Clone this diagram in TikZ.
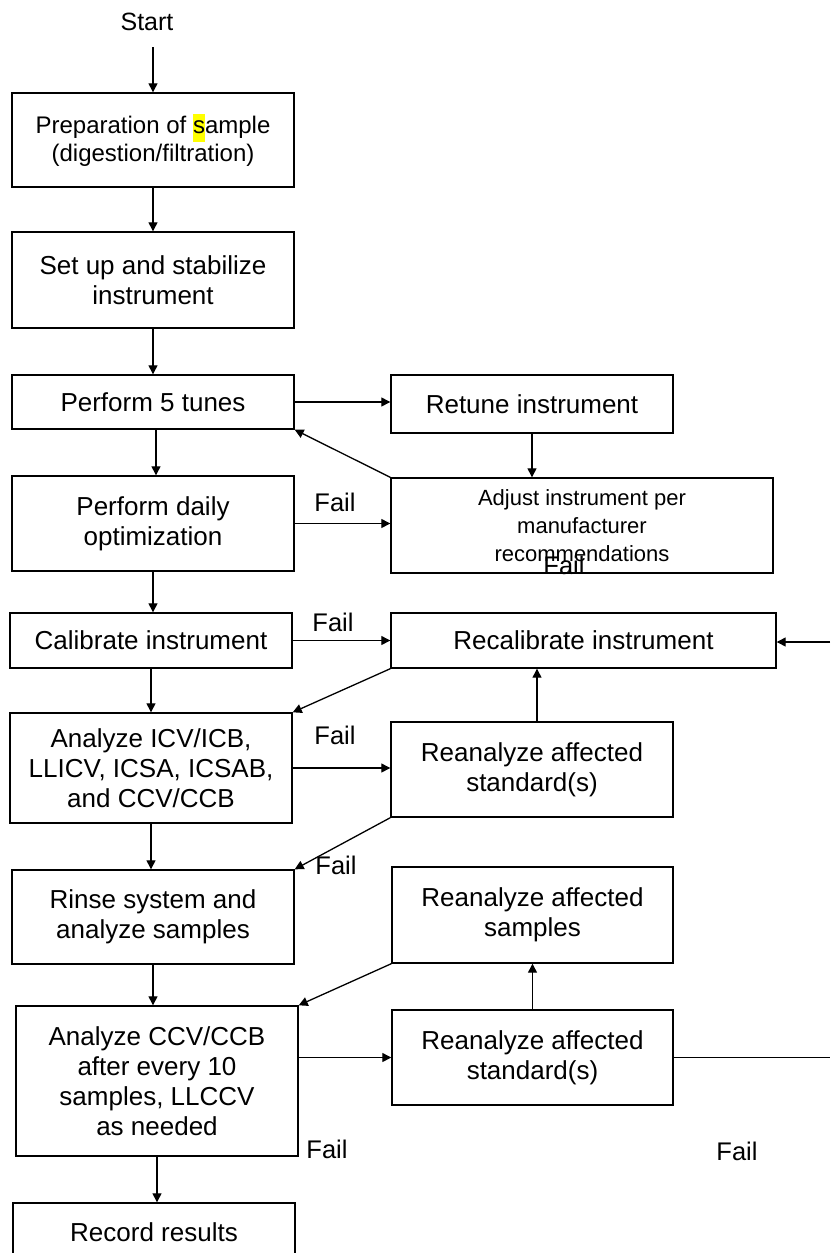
\documentclass[tikz,border=0pt]{standalone}
\usepackage{fontspec}
\setmainfont{Liberation Sans}
\usetikzlibrary{arrows.meta}
\definecolor{hlyellow}{RGB}{255,255,0}
\newcommand\hlmark[1]{{\setlength{\fboxsep}{0pt}\colorbox{hlyellow}{\strut #1}}}
\begin{document}
\begin{tikzpicture}[x=1pt,y=-1pt,
  box/.style={draw, line width=1.4pt, rectangle, inner sep=0pt, align=center,
    font=\fontsize{26}{30}\selectfont},
  arr/.style={line width=1.3pt, -{Triangle[length=9pt,width=9pt]}},
  link/.style={line width=1.3pt},
  lbl/.style={inner sep=0pt, font=\fontsize{25.5}{30}\selectfont}]
\useasboundingbox (0,0) rectangle (830,1253);
\begin{scope}
\clip (0,0) rectangle (830,1253);

% main column
\node[lbl, font=\fontsize{25}{30}\selectfont] (start) at (147,22) {Start};
\coordinate (s0) at (153,47);
\node[box, minimum width=282, minimum height=94, font=\fontsize{24}{28}\selectfont] (b1) at (153,140)
  {Preparation of \hlmark{s}ample\\(digestion/filtration)};
\node[box, minimum width=282, minimum height=96] (b2) at (153,280) {Set up and stabilize\\instrument};
\node[box, minimum width=282, minimum height=54] (b3) at (153,402) {Perform 5 tunes};
\node[box, minimum width=282, minimum height=95] (b4) at (153,523.5) {Perform daily\\optimization};
\node[box, minimum width=282, minimum height=55] (b5) at (151,640.5) {Calibrate instrument};
\node[box, minimum width=282, minimum height=110] (b6) at (151,768) {Analyze ICV/ICB,\\LLICV, ICSA, ICSAB,\\and CCV/CCB};
\node[box, minimum width=282, minimum height=94] (b7) at (153,917) {Rinse system and\\analyze samples};
\node[box, minimum width=282, minimum height=150] (b8) at (157,1081) {Analyze CCV/CCB\\after every 10\\samples, LLCCV\\as needed};
\node[box, minimum width=282, minimum height=58] (b9) at (154,1232) {Record results};

% corrective actions
\node[box, minimum width=282, minimum height=58] (r1) at (532,404) {Retune instrument};
\node[box, minimum width=382, minimum height=95, font=\fontsize{22}{28}\selectfont] (r2) at (582,525.5)
  {Adjust instrument per\\manufacturer\\recommendations};
\node[box, minimum width=385, minimum height=55] (r3) at (583.5,640.5) {Recalibrate instrument};
\node[box, minimum width=282, minimum height=95] (r4) at (532,769.5) {Reanalyze affected\\standard(s)};
\node[box, minimum width=281, minimum height=96] (r5) at (532.5,915) {Reanalyze affected\\samples};
\node[box, minimum width=281, minimum height=95] (r6) at (532.5,1057.5) {Reanalyze affected\\standard(s)};

\coordinate (e1) at (830,642);
\coordinate (e2) at (830,1057.5);

% fail labels
\node[lbl] (f1) at (335,502) {Fail};
\node[lbl] (f2) at (564,565) {Fail};
\node[lbl] (f3) at (333,622) {Fail};
\node[lbl] (f4) at (335,735) {Fail};
\node[lbl] (f5) at (336,865) {Fail};
\node[lbl] (f6) at (327,1149) {Fail};
\node[lbl] (f7) at (737,1151) {Fail};

% main flow
\draw[arr] (s0) -- (s0 |- b1.north);
\draw[arr] (b1.south) -- (b1.south |- b2.north);
\draw[arr] (b2.south) -- (b2.south |- b3.north);
\draw[arr] ([xshift=3pt]b3.south) -- ([xshift=3pt]b3.south |- b4.north);
\draw[arr] (b4.south) -- (b4.south |- b5.north);
\draw[arr] (b5.south) -- (b5.south |- b6.north);
\draw[arr] (b6.south) -- (b6.south |- b7.north);
\draw[arr] (b7.south) -- (b7.south |- b8.north);
\draw[arr] (b8.south) -- (b8.south |- b9.north);

% tuning loop
\draw[arr] (b3.east) -- (b3.east -| r1.west);
\draw[arr] (r1.south) -- (r1.south |- r2.north);
\draw[arr] (r2.north west) -- (b3.south east);
\draw[arr] (b4.east) -- (b4.east -| r2.west);

% calibration loop
\draw[arr] (b5.east) -- (b5.east -| r3.west);
\draw[arr] (e1) -- (e1 -| r3.east);
\draw[arr] (r3.south west) -- (b6.north east);
\draw[arr] (b6.east) -- (b6.east -| r4.west);
\draw[arr] ([xshift=5pt]r4.north) -- ([xshift=5pt]r4.north |- r3.south);
\draw[arr] (r4.south west) -- (b7.north east);

% sample loop
\draw[arr] (b8.east |- r6.west) -- (r6.west);
\draw[arr] (r6.north) -- (r6.north |- r5.south);
\draw[arr] (r5.south west) -- (b8.north east);
\draw[link] (r6.east) -- (e2);
\end{scope}
\end{tikzpicture}
\end{document}
